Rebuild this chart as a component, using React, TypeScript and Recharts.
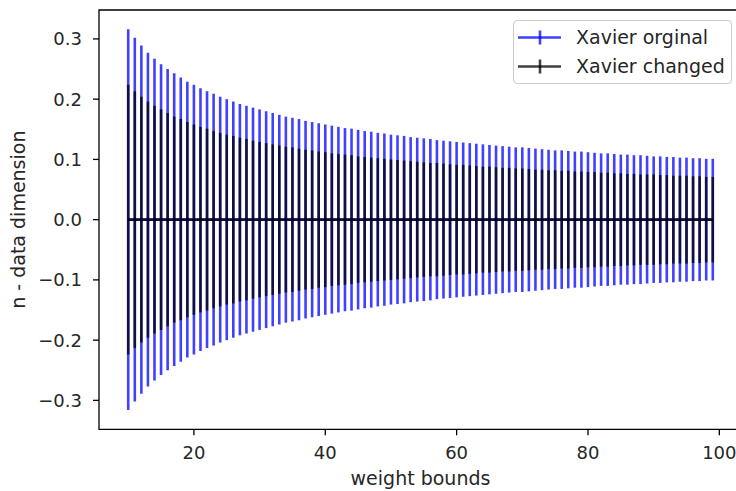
import { ComposedChart, ErrorBar, Label, Legend, Line, ReferenceArea, XAxis, YAxis } from 'recharts';

// weight bound n on the x axis
const weightBounds = [
    10, 11, 12, 13, 14, 15, 16, 17, 18, 19,
    20, 21, 22, 23, 24, 25, 26, 27, 28, 29,
    30, 31, 32, 33, 34, 35, 36, 37, 38, 39,
    40, 41, 42, 43, 44, 45, 46, 47, 48, 49,
    50, 51, 52, 53, 54, 55, 56, 57, 58, 59,
    60, 61, 62, 63, 64, 65, 66, 67, 68, 69,
    70, 71, 72, 73, 74, 75, 76, 77, 78, 79,
    80, 81, 82, 83, 84, 85, 86, 87, 88, 89,
    90, 91, 92, 93, 94, 95, 96, 97, 98, 99,
];

// half heights of the error bars
const orignalErr = [
    0.316, 0.302, 0.289, 0.277, 0.267, 0.258, 0.25, 0.243, 0.236, 0.229,
    0.224, 0.218, 0.213, 0.209, 0.204, 0.2, 0.196, 0.192, 0.189, 0.186,
    0.183, 0.18, 0.177, 0.174, 0.171, 0.169, 0.167, 0.164, 0.162, 0.16,
    0.158, 0.156, 0.154, 0.152, 0.151, 0.149, 0.147, 0.146, 0.144, 0.143,
    0.141, 0.14, 0.139, 0.137, 0.136, 0.135, 0.134, 0.132, 0.131, 0.13,
    0.129, 0.128, 0.127, 0.126, 0.125, 0.124, 0.123, 0.122, 0.121, 0.12,
    0.12, 0.119, 0.118, 0.117, 0.116, 0.115, 0.115, 0.114, 0.113, 0.113,
    0.112, 0.111, 0.11, 0.11, 0.109, 0.108, 0.108, 0.107, 0.107, 0.106,
    0.105, 0.105, 0.104, 0.104, 0.103, 0.103, 0.102, 0.102, 0.101, 0.101,
];
const changedErr = [
    0.224, 0.213, 0.204, 0.196, 0.189, 0.183, 0.177, 0.171, 0.167, 0.162,
    0.158, 0.154, 0.151, 0.147, 0.144, 0.141, 0.139, 0.136, 0.134, 0.131,
    0.129, 0.127, 0.125, 0.123, 0.121, 0.12, 0.118, 0.116, 0.115, 0.113,
    0.112, 0.11, 0.109, 0.108, 0.107, 0.105, 0.104, 0.103, 0.102, 0.101,
    0.1, 0.099, 0.098, 0.097, 0.096, 0.095, 0.094, 0.094, 0.093, 0.092,
    0.091, 0.091, 0.09, 0.089, 0.088, 0.088, 0.087, 0.086, 0.086, 0.085,
    0.085, 0.084, 0.083, 0.083, 0.082, 0.082, 0.081, 0.081, 0.08, 0.08,
    0.079, 0.079, 0.078, 0.078, 0.077, 0.077, 0.076, 0.076, 0.075, 0.075,
    0.075, 0.074, 0.074, 0.073, 0.073, 0.073, 0.072, 0.072, 0.071, 0.071,
];
const orignalMean = 0;
const changedMean = 0;

const xTicks = [20, 40, 60, 80, 100];
const yTicks = [-0.3, -0.2, -0.1, 0, 0.1, 0.2, 0.3];
const xDomain = [5.55, 103.45];
const yDomain = [-0.348, 0.348];

const BLUE = 'rgba(0,0,255,0.75)';
const BLACK = 'rgba(0,0,0,0.75)';
const FONT = 'DejaVu Sans';
const TEXT = '#262626';

const legendItems = [
    { label: 'Xavier orginal', color: BLUE },
    { label: 'Xavier changed', color: BLACK },
];

const data = weightBounds.map((n, i) => ({
    n,
    orignal: orignalMean,
    orignalErr: orignalErr[i],
    changed: changedMean,
    changedErr: changedErr[i],
}));

const fmtY = (v: number) => v.toFixed(1).replace('-', '\u2212');

function renderLegend() {
    return (
        <div
            style={{
                width: 219,
                height: 64,
                boxSizing: 'border-box',
                border: '1px solid #cccccc',
                borderRadius: 4,
                background: 'rgba(255,255,255,0.8)',
            }}
        >
            <svg width={217} height={62} style={{ display: 'block' }}>
                {legendItems.map((it, i) => {
                    const y = 16.5 + i * 29;
                    return (
                        <g key={it.label}>
                            <line x1={4} x2={47} y1={y} y2={y} stroke={it.color} strokeWidth={2.6} />
                            <line x1={26} x2={26} y1={y - 7} y2={y + 7} stroke={it.color} strokeWidth={2.6} />
                            <text x={62} y={y} dy="0.36em" fontFamily={FONT} fontSize={19} fill={TEXT}>
                                {it.label}
                            </text>
                        </g>
                    );
                })}
            </svg>
        </div>
    );
}

export default function App() {
    return (
        <div style={{ position: 'absolute', left: 0, top: 0, width: 736, height: 491, overflow: 'hidden', background: '#fff' }}>
            <ComposedChart width={750} height={491} data={data} margin={{ top: 10, right: 8, bottom: 0, left: 0 }}>
                <XAxis
                    dataKey="n"
                    type="number"
                    domain={xDomain}
                    ticks={xTicks}
                    allowDataOverflow
                    height={61.7}
                    axisLine={false}
                    tickSize={6}
                    tickMargin={11}
                    tickLine={{ stroke: '#000', strokeWidth: 1.3 }}
                    tick={{ fill: TEXT, fontSize: 18, fontFamily: FONT }}
                >
                    <Label
                        content={({ viewBox }: any) => (
                            <text
                                x={viewBox.x + viewBox.width / 2}
                                y={viewBox.y + viewBox.height - 6.5}
                                textAnchor="middle"
                                fontFamily={FONT}
                                fontSize={19}
                                fill={TEXT}
                            >
                                weight bounds
                            </text>
                        )}
                    />
                </XAxis>
                <YAxis
                    type="number"
                    domain={yDomain}
                    ticks={yTicks}
                    allowDataOverflow
                    width={99}
                    axisLine={false}
                    tickSize={6}
                    tickMargin={11}
                    tickFormatter={fmtY}
                    tickLine={{ stroke: '#000', strokeWidth: 1.3 }}
                    tick={{ fill: TEXT, fontSize: 18, fontFamily: FONT }}
                >
                    <Label
                        content={({ viewBox }: any) => {
                            const cx = viewBox.x + 25;
                            const cy = viewBox.y + viewBox.height / 2;
                            return (
                                <text
                                    x={cx}
                                    y={cy}
                                    transform={`rotate(-90 ${cx} ${cy})`}
                                    textAnchor="middle"
                                    fontFamily={FONT}
                                    fontSize={19}
                                    fill={TEXT}
                                >
                                    n - data dimension
                                </text>
                            );
                        }}
                    />
                </YAxis>
                <Line dataKey="orignal" stroke={BLUE} strokeWidth={2.6} dot={false} isAnimationActive={false}>
                    <ErrorBar dataKey="orignalErr" direction="y" width={0} stroke={BLUE} strokeWidth={2.6} isAnimationActive={false} />
                </Line>
                <Line dataKey="changed" stroke={BLACK} strokeWidth={2.6} dot={false} isAnimationActive={false}>
                    <ErrorBar dataKey="changedErr" direction="y" width={0} stroke={BLACK} strokeWidth={2.6} isAnimationActive={false} />
                </Line>
                <ReferenceArea
                    x1={xDomain[0]}
                    x2={xDomain[1]}
                    y1={yDomain[0]}
                    y2={yDomain[1]}
                    fill="none"
                    stroke="#000"
                    strokeWidth={1.3}
                    ifOverflow="visible"
                />
                <Legend
                    layout="vertical"
                    align="center"
                    verticalAlign="middle"
                    content={renderLegend}
                    wrapperStyle={{ left: 513, top: 20, width: 219, height: 64 }}
                />
            </ComposedChart>
        </div>
    );
}
